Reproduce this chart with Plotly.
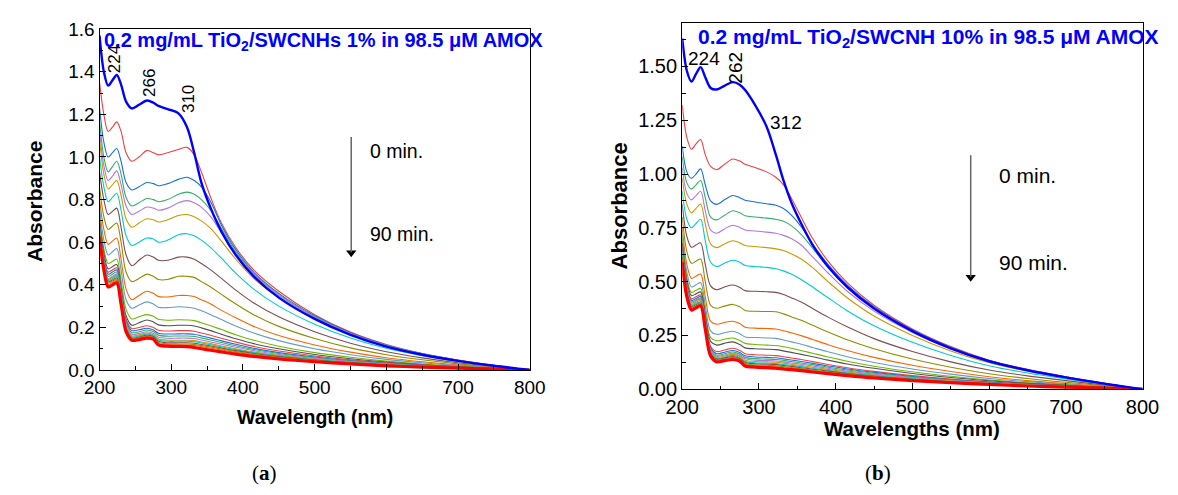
import plotly.graph_objects as go

# Sampling wavelengths (nm) shared by both sets of spectra
wavelength_nm = [200, 206, 212, 218, 224, 230, 237, 245, 255, 266, 275, 282, 295, 310, 322,
                 332, 342, 355, 370, 390, 415, 450, 500, 550, 600, 650, 700, 750, 800]

# (a) TiO2/SWCNHs 1 % : first row = 0 min, last row = 90 min
spectra_1pct = [
    [1.57, 1.40, 1.335, 1.36, 1.385, 1.34, 1.26, 1.228, 1.245, 1.265, 1.255, 1.24, 1.225, 1.205, 1.14,
     1.02, 0.88, 0.76, 0.65, 0.54, 0.44, 0.34, 0.24, 0.165, 0.11, 0.072, 0.043, 0.02, 0.0],
    [1.35, 1.20, 1.12, 1.14, 1.165, 1.12, 1.02, 0.98, 1.0, 1.03, 1.02, 1.01, 1.02, 1.035, 1.045,
     1.01, 0.93, 0.81, 0.69, 0.575, 0.47, 0.37, 0.26, 0.178, 0.12, 0.078, 0.047, 0.022, 0.0],
    [1.23, 1.07, 1.0, 1.02, 1.04, 0.98, 0.88, 0.845, 0.86, 0.88, 0.875, 0.865, 0.875, 0.895, 0.905,
     0.89, 0.86, 0.79, 0.68, 0.565, 0.46, 0.36, 0.255, 0.175, 0.118, 0.077, 0.046, 0.021, 0.0],
    [1.17, 1.0, 0.93, 0.955, 0.98, 0.92, 0.81, 0.77, 0.785, 0.805, 0.8, 0.79, 0.8, 0.825, 0.835,
     0.825, 0.80, 0.75, 0.665, 0.555, 0.455, 0.355, 0.25, 0.172, 0.116, 0.076, 0.045, 0.021, 0.0],
    [1.12, 0.96, 0.89, 0.91, 0.935, 0.87, 0.77, 0.73, 0.745, 0.765, 0.76, 0.75, 0.76, 0.785, 0.795,
     0.785, 0.765, 0.72, 0.645, 0.545, 0.45, 0.35, 0.247, 0.17, 0.114, 0.075, 0.045, 0.021, 0.0],
    [1.08, 0.92, 0.85, 0.87, 0.89, 0.82, 0.71, 0.67, 0.69, 0.71, 0.705, 0.695, 0.705, 0.725, 0.73,
     0.72, 0.70, 0.665, 0.605, 0.52, 0.43, 0.34, 0.24, 0.166, 0.112, 0.073, 0.044, 0.02, 0.0],
    [1.0, 0.86, 0.79, 0.81, 0.83, 0.75, 0.63, 0.585, 0.6, 0.62, 0.615, 0.6, 0.61, 0.635, 0.64,
     0.63, 0.61, 0.575, 0.525, 0.455, 0.38, 0.30, 0.215, 0.15, 0.102, 0.067, 0.04, 0.019, 0.0],
    [0.93, 0.8, 0.73, 0.745, 0.76, 0.67, 0.54, 0.49, 0.515, 0.54, 0.53, 0.515, 0.515, 0.53, 0.53,
     0.52, 0.50, 0.47, 0.43, 0.375, 0.315, 0.25, 0.18, 0.126, 0.086, 0.057, 0.034, 0.016, 0.0],
    [0.86, 0.72, 0.66, 0.675, 0.69, 0.6, 0.46, 0.415, 0.43, 0.45, 0.44, 0.425, 0.425, 0.44, 0.44,
     0.435, 0.415, 0.39, 0.355, 0.31, 0.26, 0.205, 0.148, 0.104, 0.072, 0.048, 0.029, 0.014, 0.0],
    [0.8, 0.66, 0.59, 0.605, 0.62, 0.52, 0.38, 0.33, 0.35, 0.37, 0.36, 0.345, 0.343, 0.35, 0.35,
     0.345, 0.33, 0.31, 0.28, 0.245, 0.205, 0.162, 0.118, 0.084, 0.058, 0.039, 0.024, 0.012, 0.0],
    [0.76, 0.61, 0.54, 0.555, 0.57, 0.47, 0.33, 0.29, 0.305, 0.32, 0.31, 0.295, 0.293, 0.297, 0.295,
     0.29, 0.278, 0.26, 0.237, 0.207, 0.174, 0.138, 0.1, 0.072, 0.05, 0.034, 0.021, 0.01, 0.0],
    [0.72, 0.57, 0.50, 0.51, 0.52, 0.42, 0.285, 0.24, 0.25, 0.26, 0.252, 0.238, 0.234, 0.236, 0.235,
     0.232, 0.222, 0.208, 0.19, 0.166, 0.14, 0.112, 0.082, 0.06, 0.042, 0.028, 0.018, 0.009, 0.0],
    [0.70, 0.55, 0.475, 0.485, 0.495, 0.39, 0.255, 0.21, 0.222, 0.235, 0.226, 0.212, 0.208, 0.21, 0.21,
     0.207, 0.198, 0.185, 0.168, 0.147, 0.124, 0.1, 0.073, 0.053, 0.037, 0.025, 0.016, 0.008, 0.0],
    [0.69, 0.535, 0.46, 0.47, 0.48, 0.375, 0.24, 0.195, 0.2, 0.208, 0.2, 0.187, 0.183, 0.185, 0.185,
     0.182, 0.174, 0.163, 0.149, 0.131, 0.111, 0.089, 0.066, 0.048, 0.034, 0.023, 0.014, 0.007, 0.0],
    [0.68, 0.525, 0.45, 0.46, 0.47, 0.365, 0.23, 0.185, 0.189, 0.196, 0.188, 0.173, 0.169, 0.17, 0.17,
     0.168, 0.16, 0.15, 0.137, 0.121, 0.102, 0.082, 0.061, 0.044, 0.031, 0.021, 0.013, 0.006, 0.0],
    [0.67, 0.515, 0.44, 0.45, 0.46, 0.355, 0.222, 0.176, 0.18, 0.188, 0.18, 0.164, 0.159, 0.16, 0.16,
     0.158, 0.151, 0.141, 0.129, 0.114, 0.097, 0.078, 0.058, 0.042, 0.03, 0.02, 0.012, 0.006, 0.0],
    [0.66, 0.505, 0.43, 0.44, 0.45, 0.347, 0.214, 0.168, 0.172, 0.18, 0.172, 0.155, 0.149, 0.15, 0.15,
     0.148, 0.141, 0.132, 0.121, 0.107, 0.091, 0.073, 0.054, 0.04, 0.028, 0.019, 0.012, 0.006, 0.0],
    [0.655, 0.5, 0.425, 0.435, 0.444, 0.34, 0.207, 0.161, 0.165, 0.174, 0.166, 0.147, 0.14, 0.14, 0.14,
     0.138, 0.132, 0.124, 0.113, 0.1, 0.085, 0.069, 0.051, 0.037, 0.026, 0.018, 0.011, 0.005, 0.0],
    [0.65, 0.495, 0.42, 0.43, 0.438, 0.335, 0.202, 0.156, 0.16, 0.169, 0.161, 0.141, 0.135, 0.135, 0.135,
     0.133, 0.127, 0.119, 0.109, 0.096, 0.082, 0.066, 0.049, 0.036, 0.025, 0.017, 0.011, 0.005, 0.0],
    [0.645, 0.49, 0.414, 0.423, 0.432, 0.33, 0.197, 0.151, 0.155, 0.164, 0.157, 0.135, 0.128, 0.128, 0.128,
     0.126, 0.12, 0.113, 0.103, 0.091, 0.078, 0.063, 0.047, 0.034, 0.024, 0.016, 0.01, 0.005, 0.0],
    [0.64, 0.485, 0.408, 0.418, 0.427, 0.325, 0.193, 0.148, 0.152, 0.16, 0.153, 0.13, 0.123, 0.122, 0.122,
     0.12, 0.115, 0.108, 0.099, 0.087, 0.074, 0.06, 0.045, 0.033, 0.023, 0.016, 0.01, 0.005, 0.0],
    [0.635, 0.48, 0.402, 0.412, 0.421, 0.32, 0.189, 0.145, 0.149, 0.157, 0.15, 0.125, 0.118, 0.117, 0.117,
     0.115, 0.11, 0.103, 0.094, 0.083, 0.071, 0.058, 0.043, 0.032, 0.022, 0.015, 0.009, 0.004, 0.0],
    [0.625, 0.47, 0.39, 0.4, 0.41, 0.31, 0.18, 0.14, 0.143, 0.15, 0.145, 0.118, 0.112, 0.111, 0.11,
     0.106, 0.1, 0.093, 0.085, 0.075, 0.064, 0.052, 0.039, 0.029, 0.02, 0.014, 0.009, 0.004, 0.0],
]

# (b) TiO2/SWCNH 10 % : first row = 0 min, last row = 90 min
spectra_10pct = [
    [1.63, 1.48, 1.43, 1.465, 1.497, 1.45, 1.40, 1.393, 1.41, 1.427, 1.415, 1.39, 1.32, 1.22, 1.09,
     0.97, 0.87, 0.77, 0.67, 0.57, 0.475, 0.375, 0.27, 0.19, 0.13, 0.088, 0.055, 0.026, 0.0],
    [1.32, 1.17, 1.116, 1.14, 1.16, 1.09, 1.035, 1.02, 1.045, 1.07, 1.06, 1.045, 1.03, 1.01, 0.985,
     0.95, 0.89, 0.80, 0.70, 0.595, 0.495, 0.39, 0.28, 0.198, 0.135, 0.092, 0.058, 0.028, 0.0],
    [1.13, 1.01, 0.98, 1.0, 1.024, 0.95, 0.875, 0.859, 0.88, 0.90, 0.89, 0.878, 0.87, 0.862, 0.855,
     0.84, 0.81, 0.755, 0.675, 0.58, 0.485, 0.383, 0.276, 0.195, 0.133, 0.09, 0.057, 0.027, 0.0],
    [1.08, 0.96, 0.93, 0.95, 0.97, 0.89, 0.80, 0.787, 0.808, 0.829, 0.82, 0.806, 0.8, 0.795, 0.79,
     0.78, 0.76, 0.72, 0.655, 0.565, 0.475, 0.376, 0.272, 0.192, 0.131, 0.089, 0.056, 0.027, 0.0],
    [1.03, 0.91, 0.88, 0.9, 0.92, 0.83, 0.74, 0.725, 0.745, 0.762, 0.752, 0.74, 0.735, 0.73, 0.725,
     0.715, 0.70, 0.67, 0.615, 0.54, 0.455, 0.363, 0.264, 0.187, 0.128, 0.087, 0.055, 0.026, 0.0],
    [0.98, 0.86, 0.82, 0.84, 0.86, 0.77, 0.675, 0.658, 0.675, 0.69, 0.68, 0.668, 0.663, 0.658, 0.652,
     0.645, 0.63, 0.605, 0.565, 0.5, 0.425, 0.34, 0.25, 0.178, 0.123, 0.084, 0.053, 0.025, 0.0],
    [0.92, 0.79, 0.75, 0.77, 0.79, 0.69, 0.59, 0.57, 0.585, 0.599, 0.59, 0.575, 0.57, 0.566, 0.56,
     0.55, 0.535, 0.51, 0.475, 0.425, 0.365, 0.295, 0.218, 0.157, 0.109, 0.075, 0.048, 0.023, 0.0],
    [0.86, 0.71, 0.66, 0.67, 0.68, 0.58, 0.48, 0.462, 0.475, 0.484, 0.473, 0.458, 0.455, 0.453, 0.45,
     0.44, 0.425, 0.405, 0.375, 0.335, 0.29, 0.235, 0.175, 0.127, 0.089, 0.062, 0.04, 0.019, 0.0],
    [0.80, 0.64, 0.585, 0.595, 0.605, 0.5, 0.39, 0.376, 0.386, 0.394, 0.383, 0.366, 0.362, 0.361, 0.36,
     0.35, 0.337, 0.32, 0.297, 0.266, 0.23, 0.188, 0.14, 0.102, 0.072, 0.05, 0.032, 0.016, 0.0],
    [0.75, 0.58, 0.515, 0.525, 0.535, 0.43, 0.315, 0.302, 0.31, 0.316, 0.305, 0.288, 0.284, 0.282, 0.28,
     0.272, 0.262, 0.249, 0.231, 0.207, 0.18, 0.148, 0.111, 0.082, 0.058, 0.04, 0.026, 0.013, 0.0],
    [0.72, 0.545, 0.475, 0.485, 0.495, 0.39, 0.27, 0.255, 0.262, 0.269, 0.258, 0.243, 0.24, 0.238, 0.236,
     0.229, 0.22, 0.209, 0.194, 0.174, 0.151, 0.124, 0.094, 0.07, 0.05, 0.035, 0.023, 0.011, 0.0],
    [0.70, 0.52, 0.45, 0.46, 0.468, 0.36, 0.24, 0.225, 0.232, 0.238, 0.226, 0.213, 0.208, 0.205, 0.203,
     0.197, 0.19, 0.18, 0.167, 0.15, 0.13, 0.107, 0.081, 0.06, 0.043, 0.03, 0.02, 0.01, 0.0],
    [0.68, 0.505, 0.435, 0.443, 0.452, 0.345, 0.222, 0.205, 0.213, 0.22, 0.208, 0.192, 0.188, 0.186, 0.184,
     0.178, 0.171, 0.162, 0.151, 0.135, 0.117, 0.097, 0.073, 0.054, 0.039, 0.027, 0.018, 0.009, 0.0],
    [0.665, 0.49, 0.42, 0.43, 0.438, 0.33, 0.2, 0.175, 0.182, 0.19, 0.18, 0.165, 0.16, 0.158, 0.156,
     0.151, 0.145, 0.138, 0.128, 0.115, 0.1, 0.083, 0.063, 0.047, 0.034, 0.024, 0.016, 0.008, 0.0],
    [0.655, 0.48, 0.412, 0.422, 0.43, 0.322, 0.192, 0.165, 0.172, 0.18, 0.17, 0.155, 0.15, 0.148, 0.146,
     0.141, 0.136, 0.129, 0.12, 0.108, 0.094, 0.078, 0.059, 0.044, 0.032, 0.022, 0.015, 0.007, 0.0],
    [0.645, 0.472, 0.405, 0.415, 0.423, 0.315, 0.186, 0.158, 0.165, 0.173, 0.163, 0.148, 0.142, 0.14, 0.138,
     0.134, 0.129, 0.122, 0.114, 0.102, 0.089, 0.074, 0.056, 0.042, 0.03, 0.021, 0.014, 0.007, 0.0],
    [0.638, 0.466, 0.4, 0.41, 0.418, 0.31, 0.181, 0.153, 0.159, 0.167, 0.157, 0.141, 0.135, 0.133, 0.131,
     0.127, 0.122, 0.116, 0.108, 0.097, 0.084, 0.07, 0.053, 0.04, 0.029, 0.02, 0.013, 0.006, 0.0],
    [0.63, 0.46, 0.394, 0.404, 0.412, 0.305, 0.176, 0.148, 0.154, 0.162, 0.152, 0.135, 0.129, 0.127, 0.125,
     0.121, 0.116, 0.11, 0.102, 0.092, 0.08, 0.066, 0.05, 0.038, 0.027, 0.019, 0.012, 0.006, 0.0],
    [0.622, 0.455, 0.388, 0.398, 0.406, 0.3, 0.171, 0.143, 0.149, 0.157, 0.147, 0.129, 0.123, 0.121, 0.119,
     0.115, 0.111, 0.105, 0.097, 0.088, 0.076, 0.063, 0.048, 0.036, 0.026, 0.018, 0.012, 0.006, 0.0],
    [0.615, 0.45, 0.383, 0.393, 0.401, 0.295, 0.167, 0.139, 0.145, 0.152, 0.143, 0.124, 0.118, 0.116, 0.114,
     0.11, 0.106, 0.1, 0.093, 0.084, 0.073, 0.06, 0.046, 0.034, 0.025, 0.017, 0.011, 0.005, 0.0],
    [0.608, 0.445, 0.378, 0.388, 0.396, 0.29, 0.163, 0.135, 0.141, 0.148, 0.139, 0.119, 0.113, 0.111, 0.109,
     0.105, 0.101, 0.096, 0.089, 0.08, 0.07, 0.058, 0.044, 0.033, 0.024, 0.016, 0.011, 0.005, 0.0],
    [0.6, 0.44, 0.373, 0.383, 0.391, 0.286, 0.159, 0.131, 0.137, 0.144, 0.135, 0.115, 0.109, 0.106, 0.104,
     0.1, 0.097, 0.092, 0.085, 0.077, 0.067, 0.055, 0.042, 0.031, 0.023, 0.016, 0.01, 0.005, 0.0],
    [0.59, 0.43, 0.368, 0.378, 0.388, 0.28, 0.154, 0.127, 0.133, 0.138, 0.13, 0.108, 0.103, 0.1, 0.098,
     0.094, 0.091, 0.086, 0.08, 0.072, 0.063, 0.052, 0.04, 0.03, 0.022, 0.015, 0.01, 0.005, 0.0],
]

# Peak positions marked on the 0 min spectra: (text, wavelength, absorbance, vertical?)
peaks_1pct = [("224", 221, 1.457, True), ("266", 270, 1.346, True), ("310", 324, 1.274, True)]
peaks_10pct = [("224", 229, 1.535, False), ("262", 270, 1.494, True), ("312", 335, 1.24, False)]

titles = ["0.2 mg/mL TiO<sub>2</sub>/SWCNHs 1% in 98.5 μM AMOX",
          "0.2 mg/mL TiO<sub>2</sub>/SWCNH 10% in 98.5 μM AMOX"]
x_titles = ["Wavelength (nm)", "Wavelengths (nm)"]
captions = ["(<b>a</b>)", "(<b>b</b>)"]

line_colors = ["#F14040", "#1A6FDF", "#37AD6B", "#B177DE", "#CC9900", "#00CBCC",
               "#7D4E4E", "#8E8E00", "#FB6501", "#6699CC", "#6FB802", "#515151"]

W, H = 1178, 495
FONT = "Liberation Sans, Arial, sans-serif"

fig = go.Figure()


def add_spectra(spectra, xa, ya):
    n = len(spectra)
    # intermediate spectra, thin and coloured
    for i in range(1, n - 1):
        fig.add_trace(go.Scatter(
            x=wavelength_nm, y=spectra[i], mode="lines", xaxis=xa, yaxis=ya,
            line=dict(color=line_colors[(i - 1) % len(line_colors)], width=1.1,
                      shape="spline", smoothing=0.9),
            showlegend=False, hoverinfo="skip"))
    # last (90 min) thick red, first (0 min) thick blue
    fig.add_trace(go.Scatter(
        x=wavelength_nm, y=spectra[-1], mode="lines", xaxis=xa, yaxis=ya,
        line=dict(color="#FF0000", width=3.2, shape="spline", smoothing=0.9),
        showlegend=False, hoverinfo="skip"))
    fig.add_trace(go.Scatter(
        x=wavelength_nm, y=spectra[0], mode="lines", xaxis=xa, yaxis=ya,
        line=dict(color="#0000FF", width=2.4, shape="spline", smoothing=0.9),
        showlegend=False, hoverinfo="skip"))


add_spectra(spectra_1pct, "x", "y")
add_spectra(spectra_10pct, "x2", "y2")

# plot-area boxes in pixels (left, top, right, bottom)
boxes = [(85, 20, 528, 376), (685, 14, 1159, 396)]
tick_sizes = [19, 20]


def dom_x(b):
    return [b[0] / W, b[2] / W]


def dom_y(b):
    return [(H - b[3]) / H, (H - b[1]) / H]


def axis_style(size):
    return dict(showline=True, linecolor="black", linewidth=1.2, mirror=True,
                ticks="inside", ticklen=6, tickwidth=1.2, tickcolor="black",
                showgrid=False, zeroline=False,
                tickfont=dict(family=FONT, size=size, color="black"))


fig.update_layout(
    width=W, height=H, margin=dict(l=0, r=0, t=0, b=0),
    paper_bgcolor="white", plot_bgcolor="white", showlegend=False,
    xaxis=dict(domain=dom_x(boxes[0]), anchor="y", range=[200, 800], dtick=100,
               minor=dict(dtick=50, ticks="inside", ticklen=3.5, tickcolor="black"),
               **axis_style(tick_sizes[0])),
    yaxis=dict(domain=dom_y(boxes[0]), anchor="x", range=[0, 1.6], dtick=0.2, tickformat=".1f",
               minor=dict(dtick=0.1, ticks="inside", ticklen=3.5, tickcolor="black"),
               **axis_style(tick_sizes[0])),
    xaxis2=dict(domain=dom_x(boxes[1]), anchor="y2", range=[200, 800], dtick=100,
                minor=dict(dtick=50, ticks="inside", ticklen=3.5, tickcolor="black"),
                **axis_style(tick_sizes[1])),
    yaxis2=dict(domain=dom_y(boxes[1]), anchor="x2", range=[0, 1.70], dtick=0.25, tickformat=".2f",
                minor=dict(dtick=0.125, ticks="inside", ticklen=3.5, tickcolor="black"),
                **axis_style(tick_sizes[1])),
)

ann = []
# panel titles (blue, bold)
title_pos = [(88, 33, 20), (699, 29, 21)]
for t, (tx, ty, ts) in zip(titles, title_pos):
    ann.append(dict(text="<b>" + t + "</b>", xref="paper", yref="paper",
                    x=tx / W, y=(H - ty) / H, xanchor="left", yanchor="middle", showarrow=False,
                    font=dict(family=FONT, size=ts, color="#0000FF")))

# peak labels
for xa, ya, peaks, fs in (("x", "y", peaks_1pct, 17), ("x2", "y2", peaks_10pct, 19)):
    for txt, xv, yv, vert in peaks:
        ann.append(dict(text=txt, xref=xa, yref=ya, x=xv, y=yv, showarrow=False,
                        textangle=-90 if vert else 0,
                        font=dict(family=FONT, size=fs, color="black")))

# time arrows (grey shaft, black head) and labels:
# axis, x, arrow top, arrow tip, label x, label y (0 / 90 min), font size
arrows = [("x", "y", 551, 1.094, 0.533, 575, 1.03, 0.638, 19.5),
          ("x2", "y2", 576, 1.087, 0.502, 610, 0.994, 0.588, 21)]
for xa, ya, xv, y0, y1, xl, yl0, yl1, fs in arrows:
    fig.add_shape(type="line", xref=xa, yref=ya, x0=xv, x1=xv, y0=y0, y1=y1 + 0.02,
                  line=dict(color="#666666", width=1.5))
    fig.add_trace(go.Scatter(x=[xv], y=[y1 + 0.018], mode="markers", xaxis=xa, yaxis=ya,
                             marker=dict(symbol="triangle-down", size=9, color="black",
                                         line=dict(width=0)),
                             showlegend=False, hoverinfo="skip"))
    ann.append(dict(text="0 min.", xref=xa, yref=ya, x=xl, y=yl0, xanchor="left",
                    showarrow=False, font=dict(family=FONT, size=fs, color="black")))
    ann.append(dict(text="90 min.", xref=xa, yref=ya, x=xl, y=yl1, xanchor="left",
                    showarrow=False, font=dict(family=FONT, size=fs, color="black")))

# axis titles and captions
label_specs = [(18, 200, 425, 255, 19.5, 21), (620, 205, 437, 887, 20.5, 22)]
for xt, cap, (yx, yy, xty, capx, xfs, yfs), b in zip(x_titles, captions, label_specs, boxes):
    cx = (b[0] + b[2]) / 2 / W
    ann.append(dict(text="<b>" + xt + "</b>", xref="paper", yref="paper", x=cx,
                    y=(H - xty) / H, xanchor="center", yanchor="middle", showarrow=False,
                    font=dict(family=FONT, size=xfs, color="black")))
    ann.append(dict(text="<b>Absorbance</b>", xref="paper", yref="paper", x=yx / W,
                    y=(H - yy) / H, textangle=-90, xanchor="center",
                    yanchor="middle", showarrow=False,
                    font=dict(family=FONT, size=yfs, color="black")))
    ann.append(dict(text=cap, xref="paper", yref="paper", x=capx / W,
                    y=(H - 484) / H, xanchor="center", yanchor="middle", showarrow=False,
                    font=dict(family="Liberation Serif, Times New Roman, serif", size=21,
                              color="black")))

fig.update_layout(annotations=ann)
fig.write_html("out.html")
